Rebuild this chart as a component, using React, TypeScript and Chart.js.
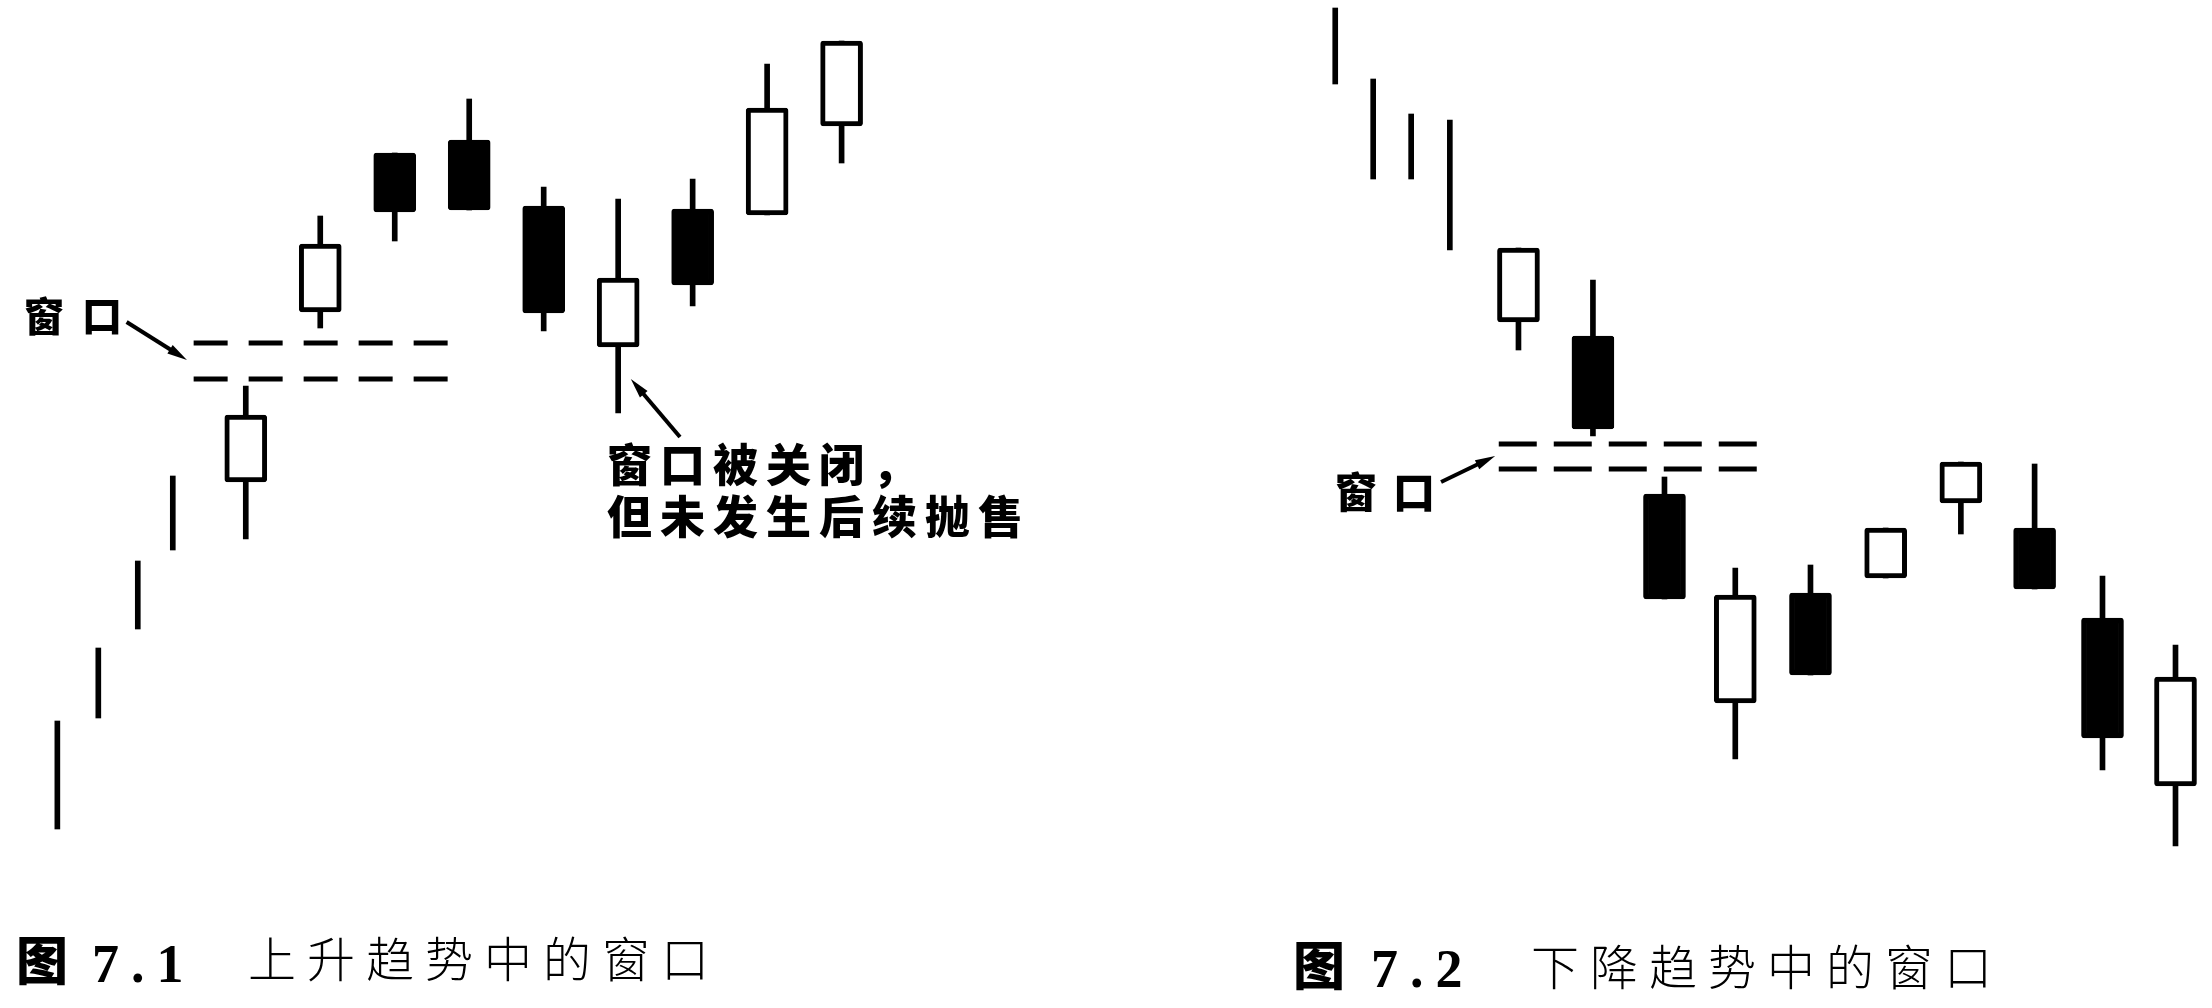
import React, { useEffect, useRef } from "react";
import { Chart, registerables } from "chart.js";
Chart.register(...registerables);

// ---------- Figure 7.1 : window in an uptrend ----------
const upThinDays = [2.47, 3.02, 3.55, 4.02];
const upThinLow = [17.9, 29.0, 37.9, 45.8];
const upThinHigh = [28.7, 36.0, 44.7, 53.2];

const upDays = [5, 6, 7, 8, 9, 10, 11, 12, 13];
const upOpen = [52.6, 69.6, 85.5, 86.8, 80.2, 66.1, 79.9, 79.3, 88.2];
const upHigh = [62.2, 79.2, 85.5, 90.9, 82.1, 80.9, 82.9, 94.4, 96.7];
const upLow = [46.9, 68.0, 76.7, 79.8, 67.7, 59.5, 70.2, 79.3, 84.5];
const upClose = [59.3, 76.4, 79.6, 79.8, 69.5, 73.0, 72.3, 90.0, 96.7];

const upWindowDays = [4.3, 7.72];
const upWindowLevels = [66.5, 62.9];
const upArrows = [
  { from: [3.4, 68.6], to: [4.21, 64.8] },
  { from: [10.83, 57.1], to: [10.17, 62.9] },
];

// ---------- Figure 7.2 : window in a downtrend ----------
const downThinDays = [2.49, 3.01, 3.53, 4.06];
const downThinLow = [92.4, 82.9, 82.9, 75.8];
const downThinHigh = [100.0, 92.9, 89.4, 88.8];

const downDays = [5, 6.02, 7.0, 7.97, 9.0, 10.03, 11.06, 12.07, 13.0, 14.0];
const downOpen = [68.6, 67.2, 51.4, 30.5, 41.5, 43.0, 50.5, 48.0, 39.0, 22.2];
const downHigh = [76.0, 72.8, 53.1, 44.0, 44.3, 48.0, 54.6, 54.4, 43.2, 36.3];
const downLow = [65.8, 57.2, 40.9, 24.9, 33.3, 43.0, 47.4, 41.9, 23.8, 16.2];
const downClose = [76.0, 57.9, 40.9, 41.3, 33.3, 48.0, 54.6, 41.9, 27.0, 33.1];

const downWindowDays = [4.73, 8.34];
const downWindowLevels = [56.4, 53.9];
const downArrows = [{ from: [3.94, 52.6], to: [4.68, 55.2] }];

// ---------- texts ----------
const upLabel = "窗口";
const closedNote = ["窗口被关闭，", "但未发生后续抛售"];
const downLabel = "窗口";
const upTitle = { fig: "图", num: "7.1", text: "上升趋势中的窗口" };
const downTitle = { fig: "图", num: "7.2", text: "下降趋势中的窗口" };

type Arrow = { from: number[]; to: number[] };

function CandleChart(props: {
  left: number;
  xMin: number;
  xMax: number;
  thinDays: number[];
  thinLow: number[];
  thinHigh: number[];
  days: number[];
  open: number[];
  high: number[];
  low: number[];
  close: number[];
  windowDays: number[];
  windowLevels: number[];
  arrows: Arrow[];
  dash: number[];
}) {
  const ref = useRef<HTMLCanvasElement | null>(null);
  useEffect(() => {
    if (!ref.current) return;
    const wicks = [
      ...props.thinDays.map((d, i) => ({ x: d, y: [props.thinLow[i], props.thinHigh[i]] })),
      ...props.days.map((d, i) => ({ x: d, y: [props.low[i], props.high[i]] })),
    ];
    const bodies = props.days.map((d, i) => ({ x: d, y: [props.open[i], props.close[i]] }));
    const fills = props.days.map((_, i) => (props.close[i] >= props.open[i] ? "#ffffff" : "#000000"));
    const windowSets = props.windowLevels.map((lvl) => ({
      type: "line" as const,
      data: props.windowDays.map((d) => ({ x: d, y: lvl })),
      borderColor: "#000000",
      borderWidth: 5,
      borderDash: props.dash,
      borderCapStyle: "butt" as const,
      pointRadius: 0,
      fill: false,
      tension: 0,
      order: 0,
    }));
    const arrowPlugin = {
      id: "arrows",
      afterDatasetsDraw(chart: any) {
        const { ctx, scales } = chart;
        const xs = scales.x;
        const ys = scales.y;
        ctx.save();
        ctx.strokeStyle = "#000";
        ctx.fillStyle = "#000";
        ctx.lineWidth = 4;
        props.arrows.forEach((a) => {
          const x1 = xs.getPixelForValue(a.from[0]);
          const y1 = ys.getPixelForValue(a.from[1]);
          const x2 = xs.getPixelForValue(a.to[0]);
          const y2 = ys.getPixelForValue(a.to[1]);
          const len = Math.hypot(x2 - x1, y2 - y1);
          const ux = (x2 - x1) / len;
          const uy = (y2 - y1) / len;
          const hl = 20;
          const hw = 5;
          ctx.beginPath();
          ctx.moveTo(x1, y1);
          ctx.lineTo(x2 - ux * hl * 0.7, y2 - uy * hl * 0.7);
          ctx.stroke();
          ctx.beginPath();
          ctx.moveTo(x2, y2);
          ctx.lineTo(x2 - ux * hl - uy * hw, y2 - uy * hl + ux * hw);
          ctx.lineTo(x2 - ux * hl + uy * hw, y2 - uy * hl - ux * hw);
          ctx.closePath();
          ctx.fill();
        });
        ctx.restore();
      },
    };
    const chart = new Chart(ref.current, {
      type: "bar",
      data: {
        datasets: [
          {
            data: wicks as any,
            backgroundColor: "#000000",
            barThickness: 5,
            grouped: false,
            order: 3,
          } as any,
          {
            data: bodies as any,
            backgroundColor: fills,
            borderColor: "#000000",
            borderWidth: 5,
            borderSkipped: false,
            borderRadius: 3,
            barThickness: 42,
            grouped: false,
            order: 2,
          } as any,
          ...(windowSets as any[]),
        ],
      },
      options: {
        animation: false,
        responsive: false,
        events: [],
        layout: { padding: 0 },
        plugins: { legend: { display: false }, tooltip: { enabled: false }, title: { display: false } },
        scales: {
          x: { type: "linear", min: props.xMin, max: props.xMax, display: false, offset: false, grid: { display: false } },
          y: { type: "linear", min: 0, max: 100.8, display: false, grid: { display: false } },
        },
      },
      plugins: [arrowPlugin],
    });
    return () => chart.destroy();
  }, []);
  return (
    <canvas
      ref={ref}
      width={1106}
      height={1008}
      style={{ position: "absolute", left: props.left, top: 0, width: 1106, height: 1008, display: "block" }}
    />
  );
}

const cjk = '"Noto Sans CJK SC", "Noto Sans CJK JP", sans-serif';

function Txt(props: { x: number; y: number; size: number; weight?: number; spacing?: number; font?: string; children: React.ReactNode }) {
  return (
    <div
      style={{
        position: "absolute",
        left: props.x,
        top: props.y,
        fontFamily: props.font || cjk,
        fontSize: props.size,
        fontWeight: props.weight || 400,
        letterSpacing: props.spacing || 0,
        lineHeight: 1,
        whiteSpace: "nowrap",
        color: "#000",
      }}
    >
      {props.children}
    </div>
  );
}

export default function App() {
  return (
    <div style={{ position: "fixed", left: 0, top: 0, width: 2212, height: 1008, background: "#fff", overflow: "hidden" }}>
      <CandleChart
        left={0}
        xMin={1.7}
        xMax={16.55}
        thinDays={upThinDays}
        thinLow={upThinLow}
        thinHigh={upThinHigh}
        days={upDays}
        open={upOpen}
        high={upHigh}
        low={upLow}
        close={upClose}
        windowDays={upWindowDays}
        windowLevels={upWindowLevels}
        arrows={upArrows}
        dash={[34, 21]}
      />
      <CandleChart
        left={1106}
        xMin={-0.65}
        xMax={14.5}
        thinDays={downThinDays}
        thinLow={downThinLow}
        thinHigh={downThinHigh}
        days={downDays}
        open={downOpen}
        high={downHigh}
        low={downLow}
        close={downClose}
        windowDays={downWindowDays}
        windowLevels={downWindowLevels}
        arrows={downArrows}
        dash={[38, 17]}
      />
      <Txt x={24} y={294} size={40} weight={900} spacing={18}>{upLabel}</Txt>
      <Txt x={607} y={440} size={45} weight={900} spacing={8}>{closedNote[0]}</Txt>
      <Txt x={607} y={492} size={45} weight={900} spacing={8}>{closedNote[1]}</Txt>
      <Txt x={1335} y={469} size={42} weight={900} spacing={16}>{downLabel}</Txt>

      <Txt x={16} y={932} size={52} weight={900}>{upTitle.fig}</Txt>
      <Txt x={92} y={937} size={54} weight={700} spacing={12} font='"Liberation Serif", serif'>{upTitle.num}</Txt>
      <Txt x={248} y={932} size={48} weight={300} spacing={11}>{upTitle.text}</Txt>

      <Txt x={1293} y={937} size={52} weight={900}>{downTitle.fig}</Txt>
      <Txt x={1371} y={942} size={54} weight={700} spacing={12} font='"Liberation Serif", serif'>{downTitle.num}</Txt>
      <Txt x={1531} y={940} size={48} weight={300} spacing={11}>{downTitle.text}</Txt>
    </div>
  );
}
